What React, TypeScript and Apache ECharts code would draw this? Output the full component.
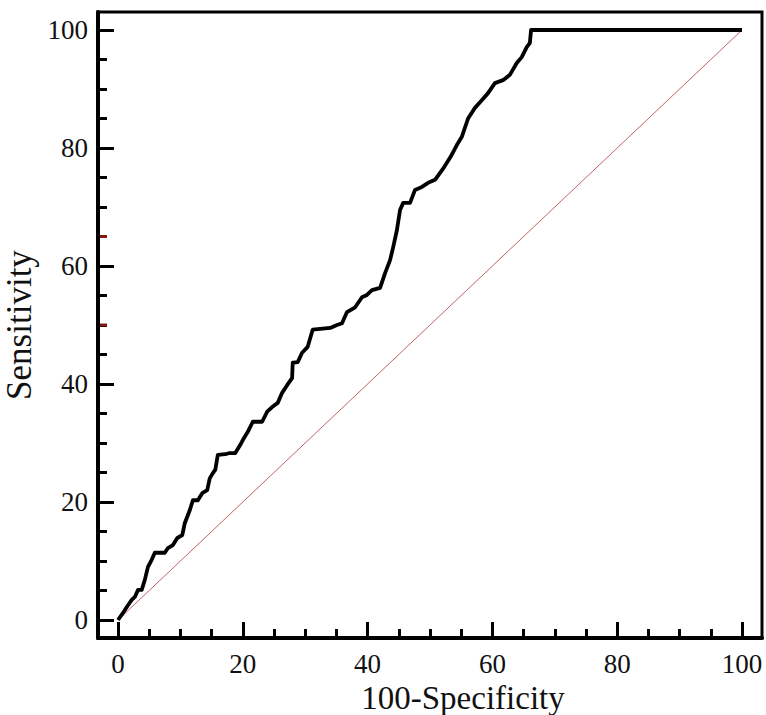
import React, { useEffect, useRef } from "react";
import * as echarts from "echarts";

// ROC curve points: [100-Specificity, Sensitivity]
const rocCurve: [number, number][] = [
  [0, 0], [0.8, 1.2], [1.1, 1.7], [1.6, 2.5], [2.2, 3.4], [2.7, 3.9], [3.2, 5.1], [3.8, 5.1],
  [4.3, 6.8], [4.8, 9.0], [5.4, 10.2], [5.9, 11.4], [7.5, 11.4], [8.0, 12.2], [8.8, 12.7],
  [9.5, 13.9], [10.3, 14.4], [10.7, 16.4], [11.5, 18.6], [12.0, 20.3], [12.8, 20.3],
  [13.5, 21.5], [14.3, 22.0], [14.7, 24.0], [15.2, 24.9], [15.6, 25.5], [16.0, 28.0],
  [17.2, 28.1], [17.9, 28.3], [18.8, 28.3], [19.6, 29.7], [20.0, 30.5], [20.8, 31.9],
  [21.6, 33.6], [23.1, 33.6], [23.9, 35.3], [24.7, 36.1], [25.6, 36.8], [26.3, 38.5],
  [27.1, 39.8], [27.9, 41.0], [28.0, 43.6], [28.8, 43.7], [29.5, 45.3], [30.4, 46.3],
  [31.2, 49.2], [34.0, 49.5], [35.1, 50.0], [35.9, 50.3], [36.7, 52.2], [38.0, 53.0],
  [39.1, 54.7], [39.9, 55.1], [40.7, 55.9], [42.0, 56.3], [42.8, 58.8], [43.6, 61.0],
  [44.1, 63.2], [44.7, 66.1], [45.2, 69.5], [45.7, 70.7], [46.8, 70.7], [47.6, 72.9],
  [48.7, 73.4], [49.7, 74.1], [50.8, 74.6], [52.1, 76.5], [53.3, 78.5], [54.3, 80.5],
  [55.1, 81.9], [56.1, 85.0], [57.2, 86.8], [58.3, 88.1], [59.3, 89.3], [60.4, 91.0],
  [61.7, 91.5], [62.8, 92.4], [63.9, 94.4], [64.7, 95.4], [65.5, 97.1], [66.0, 97.8],
  [66.2, 100], [100, 100],
];

// Reference (chance) line
const chanceLine: [number, number][] = [
  [0, 0],
  [100, 100],
];

// Highlighted (red) tick values on the Sensitivity axis
const highlightedTicks: number[] = [50, 65];

const axisMin = 0;
const axisMax = 100;
const outerMin = -3.2;
const outerMax = 103.2;

const FONT = "'Liberation Serif', 'Times New Roman', serif";

export default function App() {
  const ref = useRef<HTMLDivElement>(null);

  useEffect(() => {
    if (!ref.current) return;
    const chart = echarts.init(ref.current, undefined, { renderer: "svg" });

    const tickCommon = {
      show: true,
      inside: true,
      length: 16,
      lineStyle: { color: "#000", width: 3 },
    };
    const minorCommon = {
      show: true,
      splitNumber: 4,
      length: 9,
      lineStyle: { color: "#000", width: 3 },
    };

    chart.setOption({
      animation: false,
      backgroundColor: "#fff",
      grid: [
        {
          left: 98,
          right: 4,
          top: 12,
          bottom: 77,
          show: true,
          borderColor: "#000",
          borderWidth: 3,
          backgroundColor: "transparent",
          outerBoundsMode: "none",
          containLabel: false,
        },
        {
          left: 118,
          right: 24,
          top: 30,
          bottom: 95,
          outerBoundsMode: "none",
          containLabel: false,
        },
      ],
      xAxis: [
        {
          gridIndex: 0,
          type: "value",
          min: outerMin,
          max: outerMax,
          axisLine: { show: true, onZero: false, lineStyle: { color: "#000", width: 4 } },
          axisTick: { show: false },
          axisLabel: { show: false },
          splitLine: { show: false },
        },
        {
          gridIndex: 1,
          type: "value",
          min: axisMin,
          max: axisMax,
          interval: 20,
          offset: 18,
          axisLine: { show: false, onZero: false },
          axisTick: tickCommon,
          minorTick: minorCommon,
          splitLine: { show: false },
          axisLabel: {
            show: true,
            margin: 12,
            color: "#111",
            fontFamily: FONT,
            fontSize: 27,
          },
          name: "100-Specificity",
          nameLocation: "middle",
          nameGap: 35,
          nameTextStyle: {
            color: "#111",
            fontFamily: FONT,
            fontSize: 33,
            padding: [0, 0, 0, 66],
          },
        },
      ],
      yAxis: [
        {
          gridIndex: 0,
          type: "value",
          min: outerMin,
          max: outerMax,
          axisLine: { show: true, onZero: false, lineStyle: { color: "#000", width: 4 } },
          axisTick: { show: false },
          axisLabel: { show: false },
          splitLine: { show: false },
        },
        {
          gridIndex: 1,
          type: "value",
          min: axisMin,
          max: axisMax,
          interval: 20,
          offset: 20,
          axisLine: { show: false, onZero: false },
          axisTick: tickCommon,
          minorTick: minorCommon,
          splitLine: { show: false },
          axisLabel: {
            show: true,
            margin: 10,
            color: "#111",
            fontFamily: FONT,
            fontSize: 27,
          },
          name: "Sensitivity",
          nameLocation: "middle",
          nameGap: 49,
          nameTextStyle: {
            color: "#111",
            fontFamily: FONT,
            fontSize: 35,
          },
        },
      ],
      series: [
        {
          type: "line",
          xAxisIndex: 1,
          yAxisIndex: 1,
          data: chanceLine,
          symbol: "none",
          silent: true,
          lineStyle: { color: "#c26464", width: 1 },
          z: 1,
        },
        {
          type: "line",
          xAxisIndex: 1,
          yAxisIndex: 1,
          data: rocCurve,
          symbol: "none",
          silent: true,
          clip: false,
          lineStyle: { color: "#000", width: 3.8, join: "round" },
          z: 2,
        },
      ],
    });

    // Red highlighted ticks on the Sensitivity axis, positioned through the axis scale
    const redTicks = highlightedTicks.map((v) => {
      const p0 = chart.convertToPixel({ gridIndex: 0 }, [outerMin, v]) as number[];
      const pv = chart.convertToPixel({ xAxisIndex: 1, yAxisIndex: 1 }, [0, v]) as number[];
      return {
        type: "line",
        silent: true,
        z: 100,
        shape: { x1: p0[0] + 2, y1: pv[1], x2: p0[0] + 9, y2: pv[1] },
        style: { stroke: "#8b1414", lineWidth: 3 },
      };
    });
    chart.setOption({ graphic: redTicks });

    return () => chart.dispose();
  }, []);

  return (
    <div
      ref={ref}
      style={{ position: "fixed", left: 0, top: 0, width: 766, height: 715 }}
    />
  );
}
